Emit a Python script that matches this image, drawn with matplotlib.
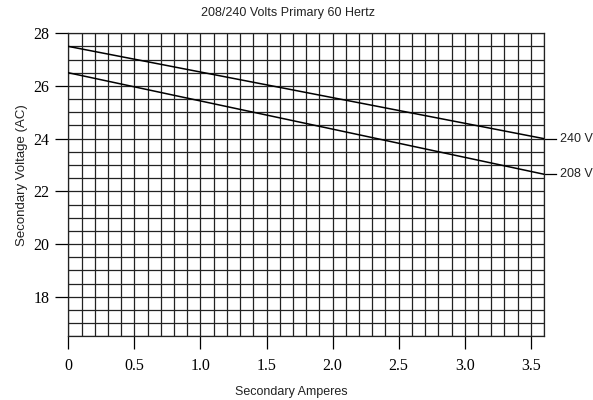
import numpy as np
import matplotlib.pyplot as plt

amps = [0.0, 3.6]
v240 = [27.5, 24.0]
v208 = [26.5, 22.65]
labels = ["240 V", "208 V"]

fig = plt.figure(figsize=(5.93, 4.0), dpi=100)
ax = fig.add_axes([0.1152, 0.159, 0.8022, 0.758])

ax.plot(amps, v240, color="black", lw=1.1, zorder=3)
ax.plot(amps, v208, color="black", lw=1.1, zorder=3)

# short leaders out to the labels on the right
for series, lab in zip([v240, v208], labels):
    ax.plot([3.6, 3.69], [series[-1], series[-1]], color="black", lw=0.9, clip_on=False)
    ax.text(3.72, series[-1], lab, fontsize=9, family="Liberation Sans",
            va="center", ha="left", color="#222222")

ax.set_xlim(0, 3.6)
ax.set_ylim(16.5, 28)
ax.set_xticks(np.arange(0, 3.51, 0.5))
ax.set_xticklabels(["0", "0.5", "1.0", "1.5", "2.0", "2.5", "3.0", "3.5"])
ax.set_yticks([18, 20, 22, 24, 26, 28])
ax.set_xticks(np.arange(0, 3.61, 0.1), minor=True)
ax.set_yticks(np.arange(16.5, 28.01, 0.5), minor=True)

ax.grid(which="both", color="#222222", lw=0.9)
ax.set_axisbelow(True)
ax.tick_params(which="minor", length=0)
ax.tick_params(which="major", length=9.5, width=0.9, color="black", pad=4,
               labelsize=11.5)
ax.tick_params(axis="x", pad=6)
for t in ax.get_xticklabels() + ax.get_yticklabels():
    t.set_family("Liberation Serif")
for s in ax.spines.values():
    s.set_color("#222222")
    s.set_linewidth(0.9)

fig.text(0.485, 0.967, "208/240 Volts Primary 60 Hertz", ha="center", va="center",
         fontsize=9, family="Liberation Sans", color="#222222")
fig.text(0.492, 0.021, "Secondary Amperes", ha="center", va="center",
         fontsize=9, family="Liberation Sans", color="#222222")
fig.text(0.037, 0.5625, "Secondary Voltage (AC)", ha="center", va="center",
         rotation=90, fontsize=9.5, family="Liberation Sans", color="#222222")

fig.savefig("out.png", dpi=100)
